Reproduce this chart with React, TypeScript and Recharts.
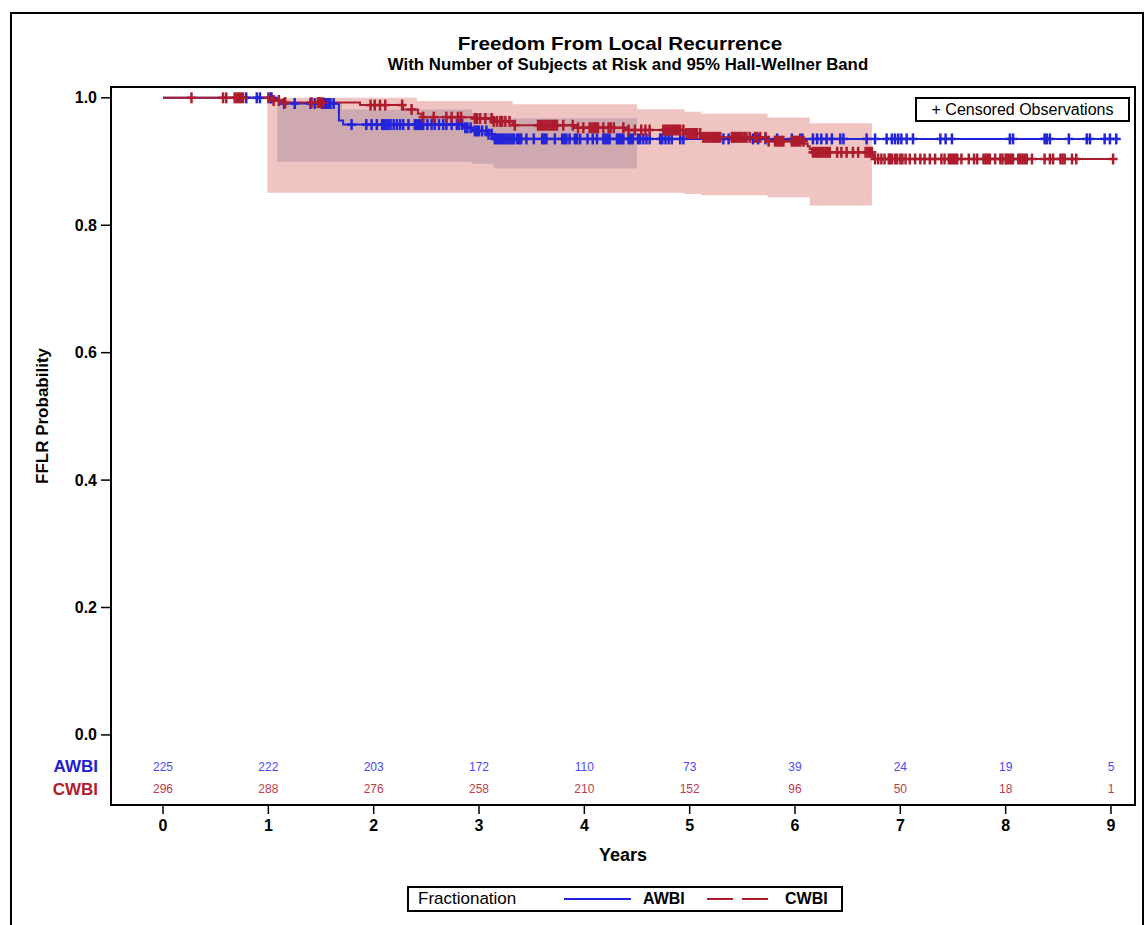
import {
  Area,
  ComposedChart,
  Line,
  ReferenceArea,
  Scatter,
  XAxis,
  YAxis,
} from "recharts";

const FONT = "'Liberation Sans', Arial, sans-serif";
const BLUE = "#2323d9";
const RED = "#ad1c2d";

// axis ticks
const years = [0, 1, 2, 3, 4, 5, 6, 7, 8, 9];
const probTicks = [0, 0.2, 0.4, 0.6, 0.8, 1.0];

// number of subjects at risk at each year
const awbiAtRisk = [225, 222, 203, 172, 110, 73, 39, 24, 19, 5];
const cwbiAtRisk = [296, 288, 276, 258, 210, 152, 96, 50, 18, 1];

// Kaplan-Meier steps (time in years, survival after the step)
const awbiTimes = [0, 1.08, 1.13, 1.67, 1.71, 2.85, 2.94, 3.08, 3.13, 9.05];
const awbiSurv = [1, 0.9956, 0.9911, 0.9645, 0.958, 0.953, 0.948, 0.943, 0.9355, 0.9355];

const cwbiTimes = [
  0, 1.01, 1.14, 1.87, 2.28, 2.42, 2.46, 2.96, 3.14, 3.32, 3.9, 4.4, 4.96, 5.11,
  5.73, 6.09, 6.12, 6.14, 6.16, 6.74, 9.02,
];
const cwbiSurv = [
  1, 0.9958, 0.9925, 0.9886, 0.9817, 0.975, 0.9697, 0.9676, 0.963, 0.957, 0.953,
  0.9495, 0.944, 0.938, 0.932, 0.928, 0.924, 0.9195, 0.9145, 0.904, 0.904,
];

// Hall-Wellner bands
const awbiBandTimes = [1.085, 1.7, 2.93, 3.14, 4.5];
const awbiBandLow = [0.8995, 0.8995, 0.8965, 0.889, 0.889];
const awbiBandHigh = [0.993, 0.9817, 0.976, 0.968, 0.968];

const cwbiBandTimes = [0.99, 2.41, 3.32, 4.5, 4.95, 5.11, 5.74, 6.14, 6.73];
const cwbiBandLow = [0.851, 0.851, 0.851, 0.851, 0.849, 0.847, 0.844, 0.831, 0.831];
const cwbiBandHigh = [1.0, 0.995, 0.99, 0.982, 0.978, 0.975, 0.969, 0.96, 0.96];

// censored observations (years)
const awbiCensor = [
  0.79, 0.89, 0.92, 1.02, 1.03, 1.15, 1.25, 1.4, 1.44, 1.51, 1.53, 1.55, 1.57,
  1.59, 1.62, 1.79, 1.93, 1.98, 2.03, 2.08, 2.1, 2.12, 2.14, 2.16, 2.19, 2.22,
  2.25, 2.28, 2.33, 2.39, 2.41, 2.43, 2.45, 2.47, 2.51, 2.55, 2.58, 2.62, 2.66,
  2.69, 2.74, 2.79, 2.81, 2.84, 2.87, 2.89, 2.92, 2.96, 2.98, 3.0, 3.03, 3.07,
  3.09, 3.12, 3.15, 3.17, 3.19, 3.21, 3.23, 3.25, 3.27, 3.29, 3.31, 3.33, 3.36,
  3.38, 3.4, 3.45, 3.52, 3.6, 3.62, 3.64, 3.72, 3.79, 3.81, 3.83, 3.86, 3.91,
  3.93, 3.96, 4.03, 4.08, 4.12, 4.18, 4.2, 4.22, 4.24, 4.31, 4.33, 4.35, 4.37,
  4.42, 4.44, 4.46, 4.51, 4.53, 4.56, 4.59, 4.62, 4.72, 4.74, 4.77, 4.8, 4.83,
  4.91, 4.94, 5.32, 5.37, 5.6, 5.65, 5.72, 5.83, 5.97, 6.05, 6.07, 6.17, 6.21,
  6.25, 6.3, 6.35, 6.43, 6.46, 6.68, 6.76, 6.87, 6.92, 6.95, 6.98, 7.01, 7.06,
  7.12, 7.38, 7.43, 7.49, 8.04, 8.07, 8.37, 8.39, 8.42, 8.6, 8.77, 8.8, 8.94,
  8.99, 9.05,
];

const cwbiCensor = [
  0.27, 0.57, 0.6, 0.68, 0.7, 0.72, 0.74, 0.76, 1.0, 1.05, 1.1, 1.16, 1.41, 1.47,
  1.49, 1.52, 1.97, 2.01, 2.06, 2.11, 2.27, 2.36, 2.47, 2.57, 2.69, 2.74, 2.8,
  2.83, 2.96, 2.98, 3.01, 3.06, 3.12, 3.14, 3.17, 3.2, 3.22, 3.25, 3.29, 3.34,
  3.56, 3.58, 3.6, 3.62, 3.64, 3.66, 3.68, 3.7, 3.72, 3.74, 3.8, 3.89, 3.94,
  3.99, 4.05, 4.07, 4.09, 4.11, 4.13, 4.18, 4.23, 4.25, 4.28, 4.37, 4.42, 4.48,
  4.54, 4.58, 4.62, 4.75, 4.77, 4.79, 4.81, 4.83, 4.85, 4.87, 4.89, 4.91, 4.94,
  4.97, 4.99, 5.01, 5.03, 5.05, 5.07, 5.1, 5.13, 5.15, 5.17, 5.19, 5.21, 5.23,
  5.25, 5.27, 5.29, 5.4, 5.42, 5.44, 5.46, 5.48, 5.5, 5.52, 5.54, 5.57, 5.62,
  5.64, 5.67, 5.72, 5.75, 5.81, 5.83, 5.85, 5.87, 5.89, 5.97, 5.99, 6.01, 6.03,
  6.05, 6.08, 6.17, 6.19, 6.21, 6.23, 6.25, 6.27, 6.29, 6.31, 6.33, 6.4, 6.44,
  6.49, 6.55, 6.6, 6.67, 6.69, 6.71, 6.73, 6.76, 6.79, 6.82, 6.85, 6.89, 6.9,
  6.92, 6.95, 6.97, 7.0, 7.02, 7.05, 7.09, 7.14, 7.19, 7.23, 7.28, 7.33, 7.39,
  7.42, 7.46, 7.48, 7.5, 7.52, 7.54, 7.58, 7.65, 7.7, 7.73, 7.79, 7.81, 7.83,
  7.85, 7.9, 7.95, 7.97, 8.0, 8.01, 8.03, 8.05, 8.07, 8.12, 8.14, 8.16, 8.18,
  8.2, 8.25, 8.37, 8.42, 8.45, 8.52, 8.54, 8.56, 8.63, 8.67, 9.02,
];

// plot window (the frame extends below 0 to hold the at-risk rows)
const X_MIN = -0.494;
const X_MAX = 9.228;
const Y_MIN = -0.11;
const Y_MAX = 1.017;
const AWBI_ROW = -0.05;
const CWBI_ROW = -0.085;

// value of a step curve at time t
function stepValue(times: number[], surv: number[], t: number) {
  let v = surv[0];
  for (let i = 0; i < times.length; i++) {
    if (times[i] <= t) v = surv[i];
  }
  return v;
}

const plusShape = (color: string) => (props: any) => {
  const { cx, cy } = props;
  return (
    <g stroke={color} strokeWidth={2.5}>
      <line x1={cx - 4.5} x2={cx + 4.5} y1={cy} y2={cy} />
      <line x1={cx} x2={cx} y1={cy - 5.5} y2={cy + 5.5} />
    </g>
  );
};

const riskText = (color: string) => (props: any) => (
  <text
    x={props.cx}
    y={props.cy}
    textAnchor="middle"
    dominantBaseline="central"
    fontSize={12}
    fill={color}
  >
    {props.payload.n}
  </text>
);

function ProbTick(props: any) {
  const { x, y, payload } = props;
  const v = payload.value;
  if (v === AWBI_ROW || v === CWBI_ROW) {
    return (
      <text
        x={x + 1}
        y={y}
        textAnchor="end"
        dominantBaseline="central"
        fontSize={17}
        fontWeight="bold"
        fill={v === AWBI_ROW ? "#2020cc" : "#b0202c"}
      >
        {v === AWBI_ROW ? "AWBI" : "CWBI"}
      </text>
    );
  }
  return (
    <g>
      <line x1={x + 4} x2={x + 14} y1={y} y2={y} stroke="#000" strokeWidth={1.5} />
      <text
        x={x}
        y={y}
        textAnchor="end"
        dominantBaseline="central"
        fontSize={16}
        fontWeight="bold"
        fill="#000"
      >
        {v.toFixed(1)}
      </text>
    </g>
  );
}

export default function App() {
  const awbiLine = awbiTimes.map((t, i) => ({ t, s: awbiSurv[i] }));
  const cwbiLine = cwbiTimes.map((t, i) => ({ t, s: cwbiSurv[i] }));
  const awbiBand = awbiBandTimes.map((t, i) => ({
    t,
    band: [awbiBandLow[i], awbiBandHigh[i]],
  }));
  const cwbiBand = cwbiBandTimes.map((t, i) => ({
    t,
    band: [cwbiBandLow[i], cwbiBandHigh[i]],
  }));
  const awbiMarks = awbiCensor.map((t) => ({ t, s: stepValue(awbiTimes, awbiSurv, t) }));
  const cwbiMarks = cwbiCensor.map((t) => ({ t, s: stepValue(cwbiTimes, cwbiSurv, t) }));
  const awbiRisk = years.map((t, i) => ({ t, s: AWBI_ROW, n: awbiAtRisk[i] }));
  const cwbiRisk = years.map((t, i) => ({ t, s: CWBI_ROW, n: cwbiAtRisk[i] }));

  return (
    <div
      style={{
        position: "fixed",
        left: 0,
        top: 0,
        width: 1147,
        height: 925,
        overflow: "hidden",
        background: "#fff",
        fontFamily: FONT,
      }}
    >
      {/* outer frame */}
      <div
        style={{
          position: "absolute",
          left: 10,
          top: 12,
          width: 1134,
          height: 930,
          border: "2px solid #000",
          boxSizing: "border-box",
        }}
      />
      <div
        style={{
          position: "absolute",
          left: 620,
          top: 33,
          transform: "translateX(-50%) scaleX(1.09)",
          whiteSpace: "nowrap",
          fontSize: 19,
          fontWeight: "bold",
          lineHeight: "22px",
        }}
      >
        Freedom From Local Recurrence
      </div>
      <div
        style={{
          position: "absolute",
          left: 628,
          top: 56,
          transform: "translateX(-50%) scaleX(1.05)",
          whiteSpace: "nowrap",
          fontSize: 16,
          fontWeight: "bold",
          lineHeight: "18px",
        }}
      >
        With Number of Subjects at Risk and 95% Hall-Wellner Band
      </div>

      <div style={{ position: "absolute", left: 0, top: 0 }}>
        <ComposedChart
          width={1147}
          height={925}
          margin={{ top: 87, right: 12, bottom: 60, left: 0 }}
          style={{ fontFamily: FONT }}
        >
          <XAxis
            dataKey="t"
            type="number"
            domain={[X_MIN, X_MAX]}
            ticks={years}
            allowDataOverflow
            interval={0}
            height={60}
            tickSize={9}
            tickMargin={6}
            axisLine={{ stroke: "#000", strokeWidth: 2 }}
            tickLine={{ stroke: "#000", strokeWidth: 1.5 }}
            tick={{ fontSize: 16, fontWeight: "bold", fill: "#000" }}
            label={(p: any) => (
              <text
                x={p.viewBox.x + p.viewBox.width / 2}
                y={855}
                textAnchor="middle"
                dominantBaseline="central"
                fontSize={18}
                fontWeight="bold"
                fill="#000"
              >
                Years
              </text>
            )}
          />
          <YAxis
            type="number"
            domain={[Y_MIN, Y_MAX]}
            ticks={[CWBI_ROW, AWBI_ROW, ...probTicks]}
            allowDataOverflow
            interval={0}
            width={111}
            tickSize={10}
            tickMargin={4}
            tickLine={false}
            axisLine={{ stroke: "#000", strokeWidth: 2 }}
            tick={<ProbTick />}
            label={() => (
              <text
                x={42}
                y={416}
                transform="rotate(-90 42 416)"
                textAnchor="middle"
                dominantBaseline="central"
                fontSize={17}
                fontWeight="bold"
                fill="#000"
              >
                FFLR Probability
              </text>
            )}
          />
          <Area
            data={cwbiBand}
            dataKey="band"
            type="stepAfter"
            fill="#f0c4c0"
            fillOpacity={1}
            stroke="none"
            isAnimationActive={false}
          />
          <Area
            data={awbiBand}
            dataKey="band"
            type="stepAfter"
            fill="#ceaab0"
            fillOpacity={1}
            stroke="none"
            isAnimationActive={false}
          />
          <Line
            data={awbiLine}
            dataKey="s"
            type="stepAfter"
            stroke={BLUE}
            strokeWidth={2}
            dot={false}
            activeDot={false}
            isAnimationActive={false}
          />
          <Line
            data={cwbiLine}
            dataKey="s"
            type="stepAfter"
            stroke={RED}
            strokeWidth={2}
            dot={false}
            activeDot={false}
            isAnimationActive={false}
          />
          <Scatter
            data={awbiMarks}
            dataKey="s"
            shape={plusShape(BLUE)}
            isAnimationActive={false}
          />
          <Scatter
            data={cwbiMarks}
            dataKey="s"
            shape={plusShape(RED)}
            isAnimationActive={false}
          />
          <Scatter
            data={awbiRisk}
            dataKey="s"
            shape={riskText("#4a4af0")}
            isAnimationActive={false}
          />
          <Scatter
            data={cwbiRisk}
            dataKey="s"
            shape={riskText("#c03a4a")}
            isAnimationActive={false}
          />
          <ReferenceArea
            x1={X_MIN}
            x2={X_MAX}
            y1={Y_MIN}
            y2={Y_MAX}
            fill="none"
            stroke="#000"
            strokeWidth={2}
            ifOverflow="visible"
          />
        </ComposedChart>
      </div>

      {/* censored marker key */}
      <div
        style={{
          position: "absolute",
          left: 915,
          top: 97,
          width: 215,
          height: 25,
          border: "2px solid #000",
          boxSizing: "border-box",
          fontSize: 16,
          lineHeight: "21px",
          textAlign: "center",
          whiteSpace: "nowrap",
        }}
      >
        + Censored Observations
      </div>

      {/* group legend */}
      <div
        style={{
          position: "absolute",
          left: 407,
          top: 886,
          width: 436,
          height: 26,
          border: "2px solid #000",
          boxSizing: "border-box",
          fontSize: 17,
          whiteSpace: "nowrap",
        }}
      >
        <span style={{ position: "absolute", left: 9, top: 1, lineHeight: "20px" }}>
          Fractionation
        </span>
        <svg
          width={436}
          height={26}
          style={{ position: "absolute", left: -2, top: -2 }}
        >
          <line x1={157} x2={224} y1={13} y2={13} stroke={BLUE} strokeWidth={2} />
          <line
            x1={300}
            x2={363}
            y1={13}
            y2={13}
            stroke={RED}
            strokeWidth={2}
            strokeDasharray="26 9"
          />
        </svg>
        <span
          style={{
            position: "absolute",
            left: 234,
            top: 1,
            lineHeight: "20px",
            fontWeight: "bold",
            fontSize: 16,
          }}
        >
          AWBI
        </span>
        <span
          style={{
            position: "absolute",
            left: 376,
            top: 1,
            lineHeight: "20px",
            fontWeight: "bold",
            fontSize: 16,
          }}
        >
          CWBI
        </span>
      </div>
    </div>
  );
}
